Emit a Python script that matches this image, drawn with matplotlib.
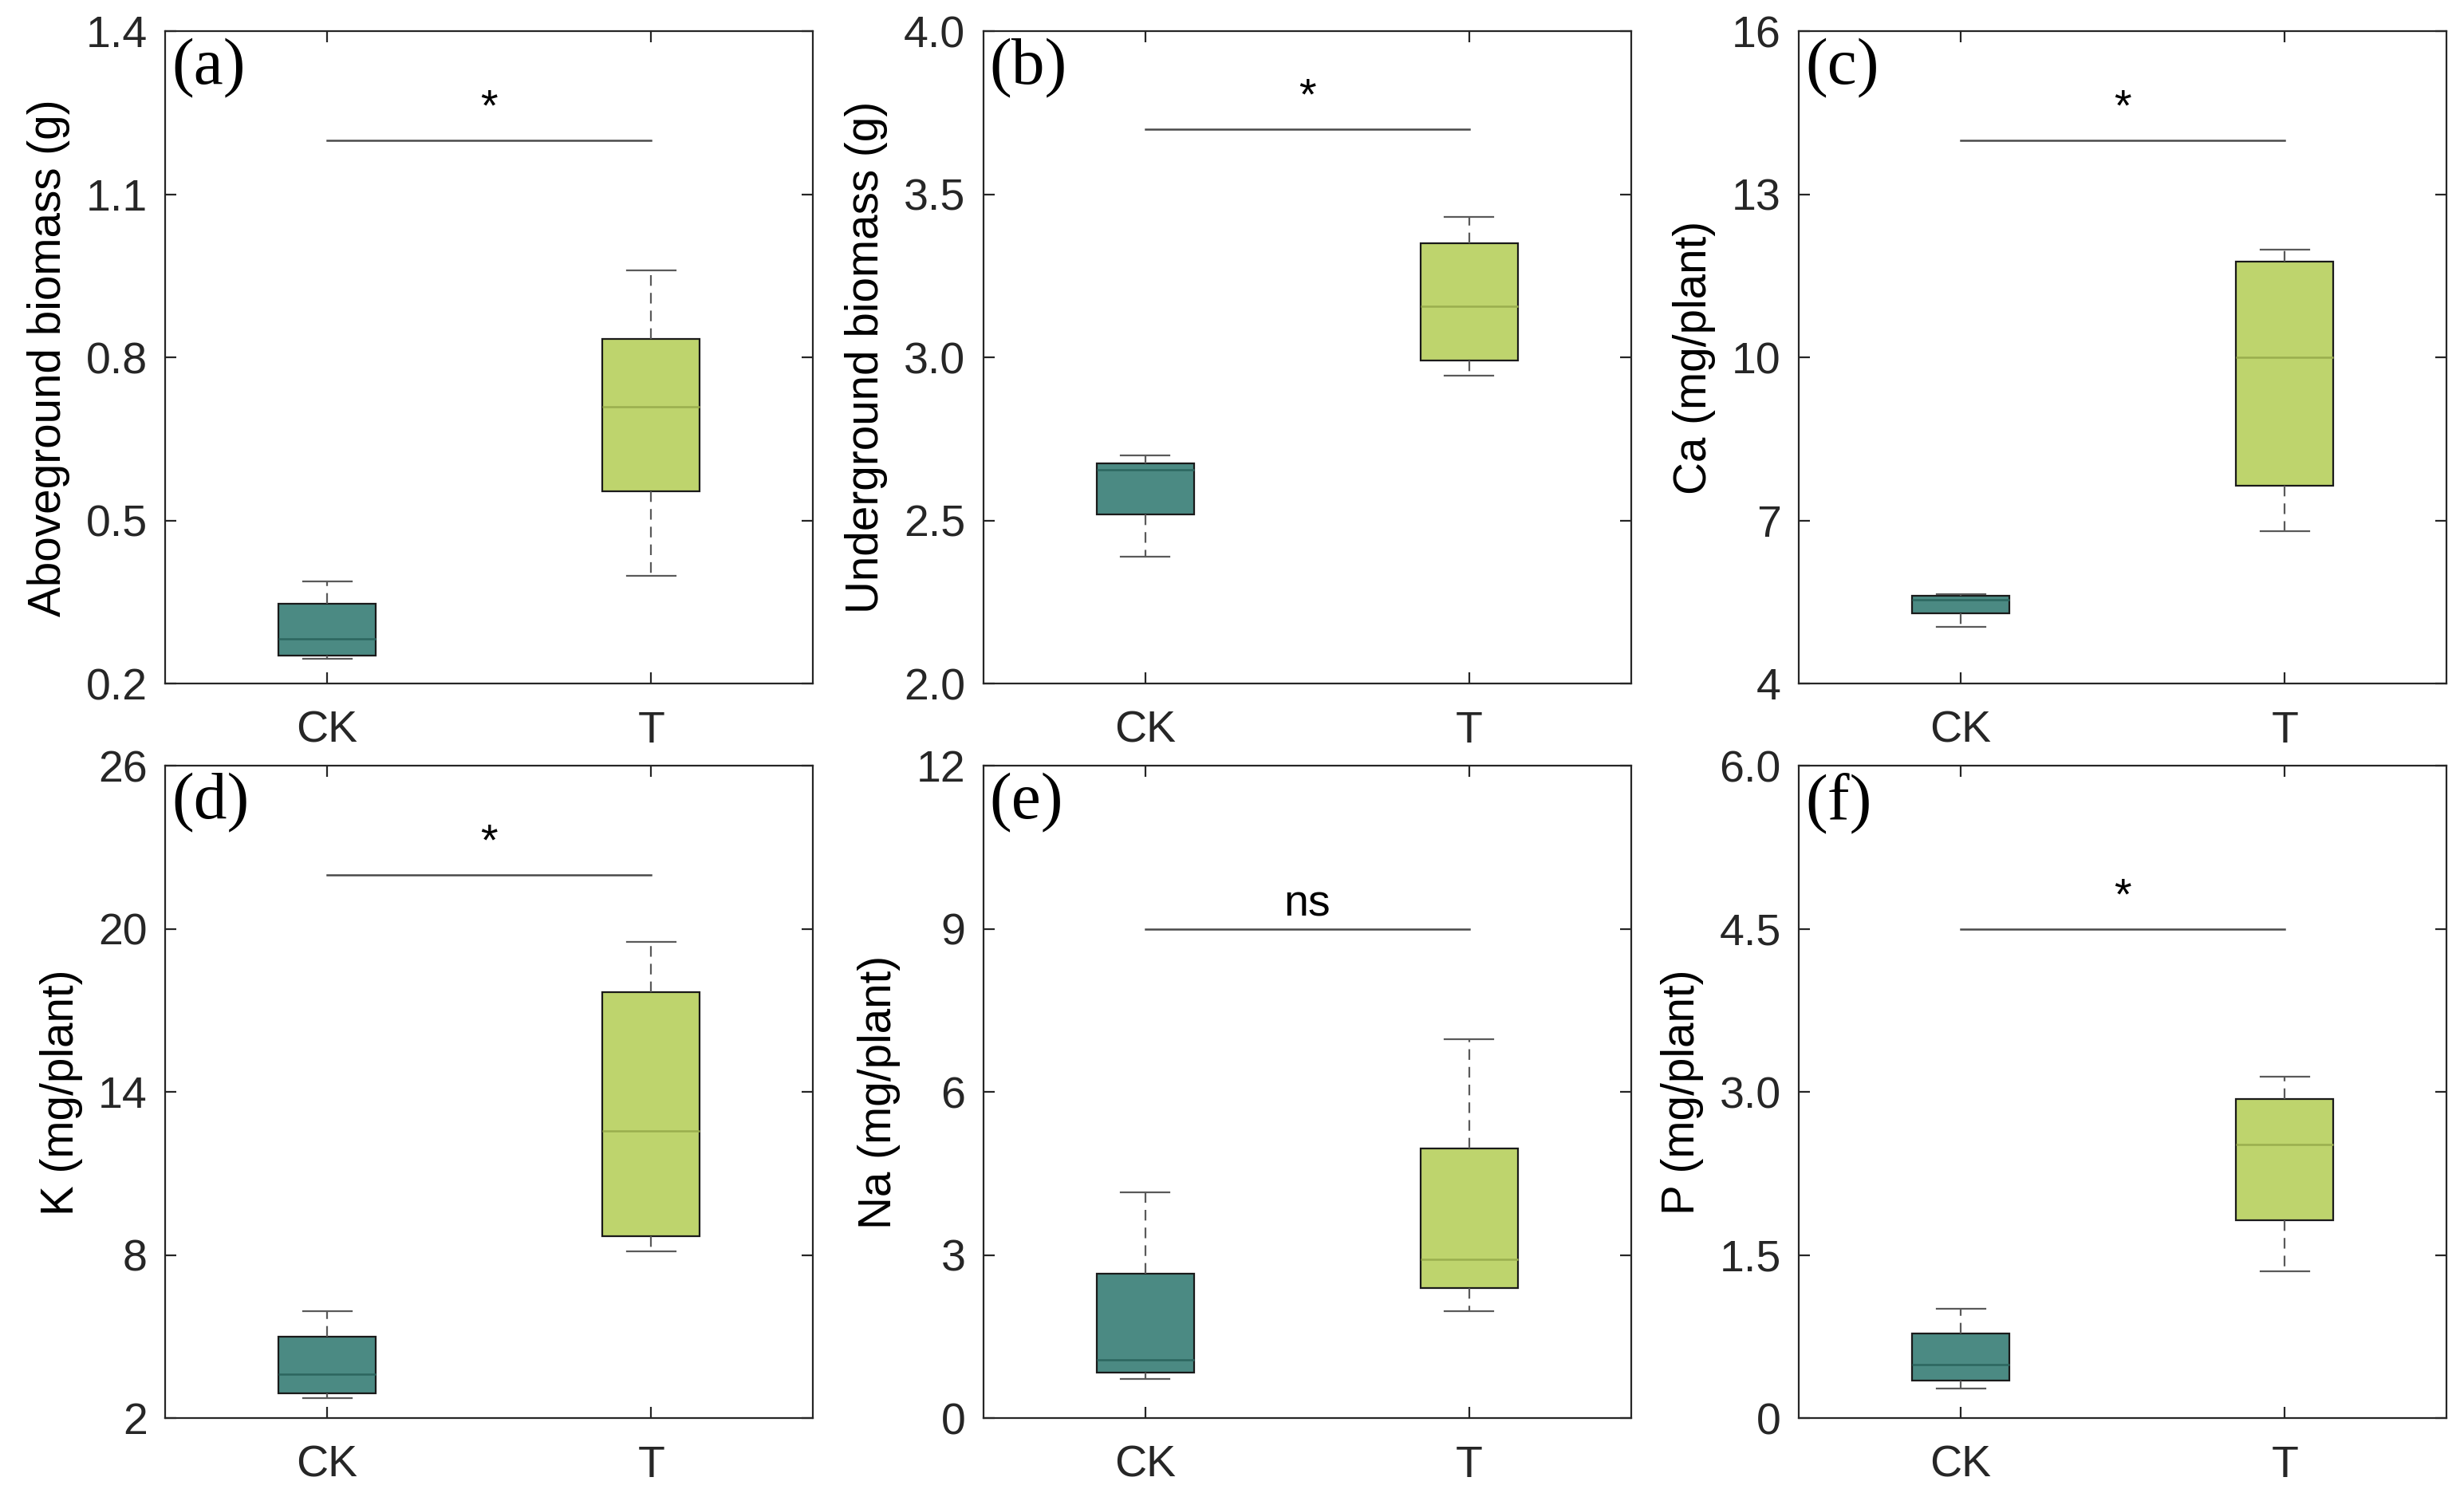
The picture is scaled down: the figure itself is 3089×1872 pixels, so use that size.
import matplotlib
matplotlib.use("Agg")
import matplotlib.pyplot as plt

groups = ["CK", "T"]
panel_tags = ["(a)", "(b)", "(c)", "(d)", "(e)", "(f)"]
ylabels = ["Aboveground biomass (g)", "Underground biomass (g)", "Ca (mg/plant)",
           "K (mg/plant)", "Na (mg/plant)", "P (mg/plant)"]
ylims = [(0.2, 1.4), (2.0, 4.0), (4, 16), (2, 26), (0, 12), (0, 6.0)]
yticks = [[0.2, 0.5, 0.8, 1.1, 1.4], [2.0, 2.5, 3.0, 3.5, 4.0], [4, 7, 10, 13, 16],
          [2, 8, 14, 20, 26], [0, 3, 6, 9, 12], [0, 1.5, 3.0, 4.5, 6.0]]
yticklabels = [["0.2", "0.5", "0.8", "1.1", "1.4"], ["2.0", "2.5", "3.0", "3.5", "4.0"],
               ["4", "7", "10", "13", "16"], ["2", "8", "14", "20", "26"],
               ["0", "3", "6", "9", "12"], ["0", "1.5", "3.0", "4.5", "6.0"]]

# box statistics per panel: [whislo, q1, med, q3, whishi] for CK and T
ck_stats = [[0.246, 0.252, 0.283, 0.347, 0.388],
            [2.39, 2.52, 2.655, 2.675, 2.70],
            [5.04, 5.30, 5.55, 5.62, 5.65],
            [2.75, 2.93, 3.62, 5.00, 5.93],
            [0.72, 0.84, 1.07, 2.66, 4.16],
            [0.273, 0.346, 0.492, 0.779, 1.007]]
t_stats = [[0.399, 0.554, 0.710, 0.834, 0.960],
           [2.945, 2.99, 3.157, 3.35, 3.43],
           [6.80, 7.64, 10.0, 11.77, 11.98],
           [8.13, 8.71, 12.58, 17.67, 19.52],
           [1.97, 2.40, 2.92, 4.97, 6.97],
           [1.35, 1.82, 2.52, 2.94, 3.14]]
sig_y = [1.20, 3.70, 14.0, 22.0, 9.0, 4.5]
sig_text = ["*", "*", "*", "*", "ns", "*"]

box_colors = ["#4b8a83", "#bed46d"]
median_colors = ["#2c665f", "#9aae4e"]

fig = plt.figure(figsize=(15.445, 9.36), dpi=200)
lefts = [0.067, 0.399, 0.730]
bottoms = [0.542, 0.050]
w, h = 0.263, 0.437

tick_color = "#262626"
for i in range(6):
    r, c = divmod(i, 3)
    ax = fig.add_axes([lefts[c], bottoms[r], w, h])
    stats = []
    for g, s in zip(groups, [ck_stats[i], t_stats[i]]):
        stats.append(dict(label=g, whislo=s[0], q1=s[1], med=s[2], q3=s[3], whishi=s[4], fliers=[]))
    bp = ax.bxp(stats, positions=[1, 2], widths=0.30, patch_artist=True, showfliers=False,
                whiskerprops=dict(color="#5a5a5a", linestyle=(0, (6, 4)), linewidth=0.8),
                capprops=dict(color="#5a5a5a", linewidth=0.8),
                boxprops=dict(edgecolor="#1a1a1a", linewidth=0.8),
                medianprops=dict(linewidth=0.9))
    for k, patch in enumerate(bp["boxes"]):
        patch.set_facecolor(box_colors[k])
    for k, med in enumerate(bp["medians"]):
        med.set_color(median_colors[k])
    for cap in bp["caps"]:
        xd = cap.get_xdata()
        xm = (xd[0] + xd[1]) / 2
        cap.set_xdata([xm - 0.075, xm + 0.075])
    ax.set_xlim(0.5, 2.5)
    ax.set_ylim(*ylims[i])
    ax.set_yticks(yticks[i])
    ax.set_yticklabels(yticklabels[i])
    ax.set_xticks([1, 2])
    ax.set_xticklabels(groups)
    ax.tick_params(direction="in", length=5, width=0.8, color=tick_color,
                   labelsize=20, labelcolor=tick_color, top=True, right=True, pad=8)
    ax.tick_params(axis="x", pad=12)
    for lab in ax.get_xticklabels() + ax.get_yticklabels():
        lab.set_family("Liberation Sans")
    for sp in ax.spines.values():
        sp.set_color(tick_color)
        sp.set_linewidth(0.8)
    ax.set_ylabel(ylabels[i], fontsize=20.4, color="#000000", family="Liberation Sans", labelpad=7)
    ax.text(0.01, 0.99, panel_tags[i], transform=ax.transAxes, ha="left", va="top",
            fontsize=30, family="Liberation Serif", color="black")
    ax.plot([1, 2], [sig_y[i], sig_y[i]], color="#4a4a4a", linewidth=0.9)
    yr = ylims[i][1] - ylims[i][0]
    if sig_text[i] == "*":
        ax.text(1.5, sig_y[i] + 0.016 * yr, "*", ha="center", va="bottom", fontsize=20,
                family="Liberation Sans", color="black")
    else:
        ax.text(1.5, sig_y[i] + 0.005 * yr, sig_text[i], ha="center", va="bottom", fontsize=20,
                family="Liberation Sans", color="black")

fig.savefig("out.png", dpi=200)
